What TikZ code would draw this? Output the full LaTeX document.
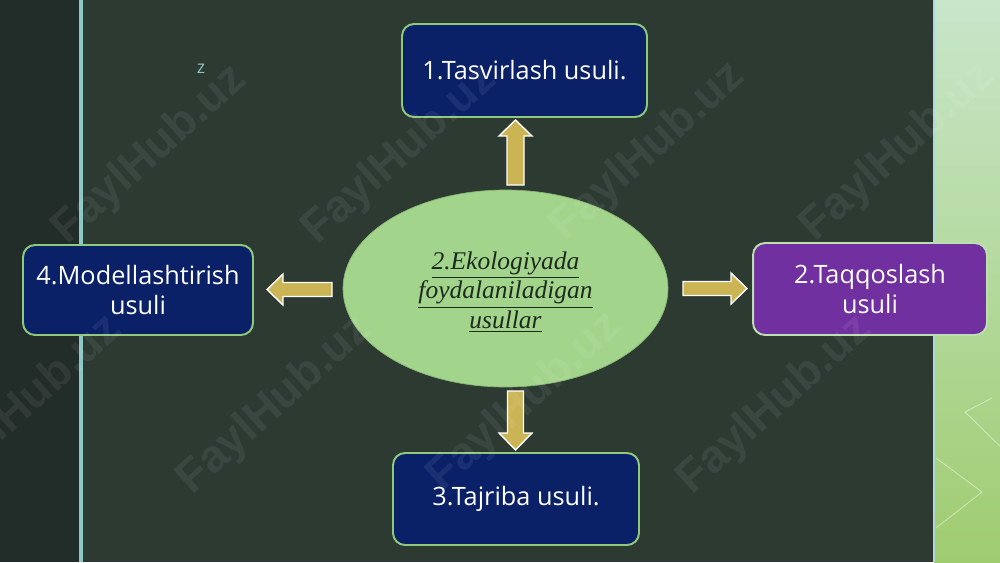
\documentclass[tikz,border=0pt]{standalone}
\usepackage{fontspec}
\setmainfont{Open Sans}
\newfontfamily\serifit{Liberation Serif}
\newfontfamily\wmfont{Liberation Sans}
\usetikzlibrary{shapes.geometric}
\definecolor{bgmain}{HTML}{2C3A32}
\definecolor{bgleft}{HTML}{222C28}
\definecolor{tealline}{HTML}{8CC8C6}
\definecolor{navybox}{HTML}{0A2168}
\definecolor{purplebox}{HTML}{7030A0}
\definecolor{boxedge}{HTML}{8FC97C}
\definecolor{ellfill}{HTML}{A2D58B}
\definecolor{ellText}{HTML}{1E2A1E}
\definecolor{gold}{HTML}{CBB454}
\definecolor{stripTop}{HTML}{C8E6CA}
\definecolor{stripMid}{HTML}{B6DEA4}
\definecolor{stripBot}{HTML}{A0CC70}
\newcommand\BArrow[7]{% cx, cy, angle, length, shaft, head, headlen
  \begin{scope}[shift={(#1,#2)},rotate=#3]
    \draw[blockarr] (-#4/2,-#5/2) -- (#4/2-#7,-#5/2) -- (#4/2-#7,-#6/2) -- (#4/2,0)
      -- (#4/2-#7,#6/2) -- (#4/2-#7,#5/2) -- (-#4/2,#5/2) -- cycle;
  \end{scope}}
\tikzset{
  box/.style={draw=boxedge, line width=1.1pt, fill=navybox, rounded corners=0.24cm,
    text=white, align=center, inner sep=0pt,
    font=\fontsize{14.4}{17}\selectfont},
  blockarr/.style={fill=gold, draw=white, line width=0.8pt, line join=miter},
  wm/.style={font=\wmfont\bfseries\fontsize{26}{26}\selectfont, text=white,
    text opacity=0.07, rotate=42},
}
\begin{document}
\begin{tikzpicture}[x=0.02cm,y=-0.02cm]
\useasboundingbox (0,0) rectangle (1000,562);
% background
\fill[bgmain] (0,0) rectangle (1000,562);
\fill[bgleft] (0,0) rectangle (79,562);
\fill[tealline] (79,0) rectangle (82.5,562);
\shade[top color=stripTop, middle color=stripMid, bottom color=stripBot] (934,0) rectangle (1000,562);
\fill[tealline!70!white] (933,0) rectangle (935,562);
\draw[white, opacity=0.45, line width=0.5pt] (992,398) -- (965,412) -- (1000,446);
\draw[white, opacity=0.45, line width=0.5pt] (936,458) -- (982,492) -- (936,528);
\node[text=tealline, font=\fontsize{10}{10}\selectfont] (zmark) at (201,69) {z};

% central ellipse
\node[ellipse, fill=ellfill, draw=ellfill!85!black, line width=0.4pt,
  minimum width=6.5cm, minimum height=3.94cm, inner sep=0pt] (center) at (505.5,288.5) {};
\node[text=ellText, align=center, font=\serifit\itshape\fontsize{14.5}{16.8}\selectfont]
  (centertext) at (505.5,292) {\underline{2.Ekologiyada}\\\underline{foydalaniladigan}\\\underline{usullar}};

% boxes
\node[box, minimum width=4.9cm, minimum height=1.86cm] (top) at (524.5,70.5) {1.Tasvirlash usuli.};
\node[box, minimum width=4.6cm, minimum height=1.8cm] (left) at (138,290) {4.Modellashtirish\\usuli};
\node[box, fill=purplebox, draw=boxedge!60!white, minimum width=4.68cm, minimum height=1.84cm] (right) at (870,289) {2.Taqqoslash\\usuli};
\node[box, minimum width=4.92cm, minimum height=1.84cm] (bottom) at (516,499) {3.Tajriba usuli.};

% block arrows
\BArrow{515.5}{152.5}{90}{65}{17}{33}{16}
\BArrow{299.5}{289.5}{180}{65}{14}{31}{16}
\BArrow{715}{288.5}{0}{64}{14}{31}{16}
\BArrow{515.5}{420.5}{-90}{59}{16}{33}{17}

% watermarks
\foreach \wx/\wy in {150/155,400/155,648/152,898/152,25/405,275/405,525/402,775/405}
  \node[wm] at (\wx,\wy) {FaylHub.uz};
\end{tikzpicture}
\end{document}
